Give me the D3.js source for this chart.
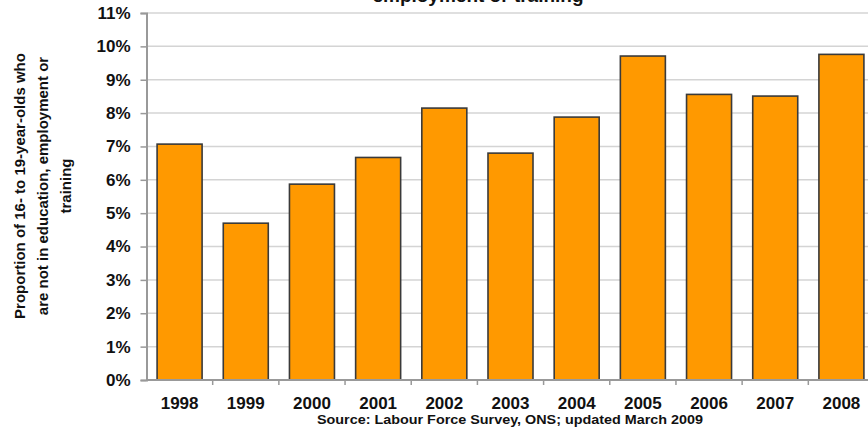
<!DOCTYPE html>
<html>
<head>
<meta charset="utf-8">
<script src="https://cdn.jsdelivr.net/npm/d3@7"></script>
<style>
  html, body { margin: 0; padding: 0; background: #fff; overflow: hidden; }
  svg { display: block; font-family: "Liberation Sans", Arial, sans-serif; }
</style>
</head>
<body>
<div id="chart"></div>
<script>
// NEET share of 16-19 year olds, by year
const years = ['1998', '1999', '2000', '2001', '2002', '2003', '2004', '2005', '2006', '2007', '2008'];
const neetShare = [7.07, 4.70, 5.87, 6.67, 8.15, 6.80, 7.88, 9.71, 8.56, 8.51, 9.76];
const yTicks = [0, 1, 2, 3, 4, 5, 6, 7, 8, 9, 10, 11];
const yLabelLines = ['Proportion of 16- to 19-year-olds who', 'are not in education, employment or', 'training'];

const width = 868;
const height = 431;

const svg = d3.select('#chart')
  .append('svg')
  .attr('width', width)
  .attr('height', height);

// plot area runs past the right edge of the frame (cropped original)
const x = d3.scaleBand()
  .domain(years)
  .range([146.5, 874.5])
  .paddingInner(0.32)
  .paddingOuter(0.16);

const y = d3.scaleLinear()
  .domain([0, 11])
  .range([380, 13]);

// gridlines
svg.append('g')
  .selectAll('line')
  .data(yTicks.slice(1))
  .enter()
  .append('line')
  .attr('x1', 146.5)
  .attr('x2', width)
  .attr('y1', d => y(d))
  .attr('y2', d => y(d))
  .attr('stroke', '#d4d4d4')
  .attr('stroke-width', 1.5);

// bars
svg.append('g')
  .selectAll('rect')
  .data(neetShare)
  .enter()
  .append('rect')
  .attr('x', (d, i) => x(years[i]))
  .attr('y', d => y(d))
  .attr('width', x.bandwidth())
  .attr('height', d => y(0) - y(d))
  .attr('fill', '#ff9900')
  .attr('stroke', '#3a3a3a')
  .attr('stroke-width', 1.6);

// y axis
const yAxis = svg.append('g')
  .attr('transform', 'translate(146.5,0)')
  .call(d3.axisLeft(y).tickValues(yTicks).tickFormat(d => d + '%').tickSize(6).tickPadding(10));
yAxis.select('.domain').attr('stroke', '#999').attr('stroke-width', 2);
yAxis.selectAll('.tick line').attr('stroke', '#999').attr('stroke-width', 1.5);
yAxis.selectAll('.tick text')
  .attr('fill', '#111')
  .style('font-size', '17px')
  .style('font-weight', 'bold');

// x axis: ticks sit between categories
const xAxis = svg.append('g')
  .attr('transform', 'translate(0,380)');
xAxis.append('line')
  .attr('x1', 146.5)
  .attr('x2', width)
  .attr('stroke', '#999')
  .attr('stroke-width', 2);
xAxis.selectAll('.sep')
  .data(years)
  .enter()
  .append('line')
  .attr('class', 'sep')
  .attr('x1', d => x(d) + x.bandwidth() + x.step() * x.paddingInner() / 2)
  .attr('x2', d => x(d) + x.bandwidth() + x.step() * x.paddingInner() / 2)
  .attr('y1', 0)
  .attr('y2', 5)
  .attr('stroke', '#999')
  .attr('stroke-width', 1.5);
xAxis.selectAll('.lbl')
  .data(years)
  .enter()
  .append('text')
  .attr('class', 'lbl')
  .attr('x', d => x(d) + x.bandwidth() / 2)
  .attr('y', 29)
  .attr('text-anchor', 'middle')
  .attr('fill', '#111')
  .style('font-size', '17px')
  .style('font-weight', 'bold')
  .text(d => d);

// title (mostly cut off at top, as in the original crop)
svg.append('text')
  .attr('x', 478)
  .attr('y', 2)
  .attr('text-anchor', 'middle')
  .attr('fill', '#111')
  .style('font-size', '19px')
  .style('font-weight', 'bold')
  .text('employment or training');

// y axis label
const yl = svg.append('text')
  .attr('transform', 'translate(0,186) rotate(-90)')
  .attr('text-anchor', 'middle')
  .attr('fill', '#111')
  .style('font-size', '15px')
  .style('font-weight', 'bold');
yl.selectAll('tspan')
  .data(yLabelLines)
  .enter()
  .append('tspan')
  .attr('x', 0)
  .attr('y', (d, i) => 25 + i * 23)
  .text(d => d);

// source note
svg.append('text')
  .attr('x', 510)
  .attr('y', 424)
  .attr('text-anchor', 'middle')
  .attr('fill', '#111')
  .attr('textLength', 386)
  .attr('lengthAdjust', 'spacingAndGlyphs')
  .style('font-size', '12px')
  .style('font-weight', 'bold')
  .text('Source: Labour Force Survey, ONS; updated March 2009');
</script>
</body>
</html>
